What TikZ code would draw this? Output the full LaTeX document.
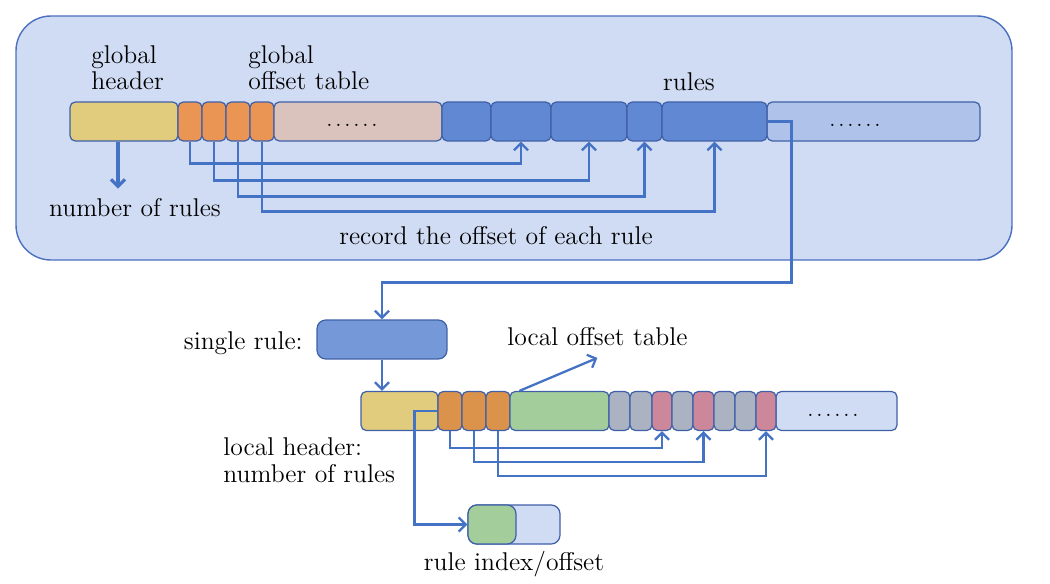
\documentclass[tikz,border=0pt]{standalone}
\usetikzlibrary{arrows.meta}
\definecolor{panelbg}{HTML}{D0DCF3}
\definecolor{panelline}{HTML}{4B70C0}
\definecolor{cellline}{HTML}{3F60A8}
\definecolor{linkblue}{HTML}{4472C4}
\definecolor{hdryellow}{HTML}{E1CB7C}
\definecolor{offorange}{HTML}{EA9553}
\definecolor{loorange}{HTML}{DB924A}
\definecolor{dotbeige}{HTML}{D9C3BC}
\definecolor{ruleblue}{HTML}{6188D2}
\definecolor{ruletail}{HTML}{AFC3EA}
\definecolor{singleblue}{HTML}{7599D8}
\definecolor{idxgreen}{HTML}{A3CD9A}
\definecolor{slotgray}{HTML}{ABB2C1}
\definecolor{slotpink}{HTML}{CC889A}
\definecolor{lighttail}{HTML}{D0DCF3}
\newcommand{\moredots}{.\kern1.6pt.\kern1.6pt.\kern1.6pt.\kern1.6pt.\kern1.6pt.}
\begin{document}
\begin{tikzpicture}[x=0.02cm,y=-0.02cm,
    cell/.style={draw=cellline, line width=0.7pt, rounded corners=3pt,
      inner sep=0pt, minimum height=0.78cm},
    dotlbl/.style={inner sep=0pt, anchor=base, font=\fontsize{13}{13}\selectfont},
    link/.style={draw=linkblue, line width=1.3pt,
      -{Straight Barb[length=4pt,width=8pt]}},
    lbl/.style={inner sep=0pt, align=left,
      font=\fontsize{14.6}{15.3}\selectfont}]
  \useasboundingbox (0,0) rectangle (1050,584);
  % container of the whole rule file
  \draw[panelline, fill=panelbg, line width=0.8pt, rounded corners=0.7cm]
    (16,16) rectangle (1012,260);
  % global bar
  \node[cell, fill=ruletail, minimum width=4.26cm] (rdots) at (873.5,121.5) {};
  \node[dotlbl] (rdotstxt) at (855,127) {\moredots};
  \foreach \n/\a/\b/\c in {gh/70/178/hdryellow, go1/178/202/offorange,
      go2/202/226/offorange, go3/226/250/offorange, go4/250/274/offorange,
      gdots/274/442/dotbeige, r1/442/491/ruleblue, r2/491/551/ruleblue,
      r3/551/627/ruleblue, r4/627/662/ruleblue, r5/662/767/ruleblue}
    \node[cell, fill=\c, minimum width={(\b-\a)*0.02cm}] (\n)
      at ({(\a+\b)/2},121.5) {};
  \node[dotlbl] (gdotstxt) at (352,127) {\moredots};
  % global offsets point into the rules
  \foreach \i/\t/\d in {1/r2/22, 2/r3/39, 3/r4/55, 4/r5/70}
    \draw[link] (go\i.south) -- ++(0,\d) -| (\t.south);
  \draw[link, line width=1.8pt] ([xshift=-0.12cm]gh.south) -- ++(0,47);
  \node[lbl, anchor=base west] (ghlbl) at (91,90) {global\\header};
  \node[lbl, anchor=base west] (golbl) at (248,90) {global\\offset table};
  \node[lbl, anchor=base] (rlbl) at (689,91) {rules};
  \node[lbl, anchor=base] (nrules) at (135,216) {number of rules};
  \node[lbl, anchor=base] (reclbl) at (496,244) {record the offset of each rule};
  % one rule taken out
  \node[cell, fill=singleblue, minimum width=2.6cm, rounded corners=5pt]
    (single) at (382,339.5) {};
  \node[lbl, anchor=base east] (slbl) at (303,349) {single rule:};
  \draw[link] (r5.east) -- ++(24,0) -- ++(0,161) -| (single.north);
  % local bar
  \node[cell, fill=lighttail, minimum width=2.42cm] (ldots) at (836.5,411) {};
  \node[dotlbl] (ldotstxt) at (833,416) {\moredots};
  \foreach \n/\a/\b/\c in {lh/361/438/hdryellow, lo1/438/462/loorange,
      lo2/462/486/loorange, lo3/486/510/loorange, lgreen/510/609/idxgreen,
      g1/609/630/slotgray, g2/630/652/slotgray, p1/652/672/slotpink,
      g3/672/693/slotgray, p2/693/714/slotpink, g4/714/735/slotgray,
      g5/735/756/slotgray, p3/756/776/slotpink}
    \node[cell, fill=\c, minimum width={(\b-\a)*0.02cm}] (\n)
      at ({(\a+\b)/2},411) {};
  \draw[link] (single.south) -- (single.south |- lh.north);
  \foreach \i/\d in {1/17, 2/31, 3/45}
    \draw[link] (lo\i.south) -- ++(0,\d) -| (p\i.south);
  \node[lbl, anchor=base west] (lolbl) at (507,345) {local offset table};
  \draw[link] ([xshift=0.2cm]lgreen.north west) -- ++(78,-33);
  \node[lbl, anchor=base west] (lhlbl) at (223,482) {local header:\\number of rules};
  % index entry
  \node[cell, fill=lighttail, minimum width=1.84cm, rounded corners=5pt]
    (io) at (514,524.5) {};
  \node[cell, fill=idxgreen, minimum width=0.96cm, rounded corners=5pt]
    (ig) at (492,524.5) {};
  \draw[link] (lo1.west) -- ++(-23,0) |- (ig.west);
  \node[lbl, anchor=base] (idxlbl) at (514,570) {rule index/offset};
\end{tikzpicture}
\end{document}
